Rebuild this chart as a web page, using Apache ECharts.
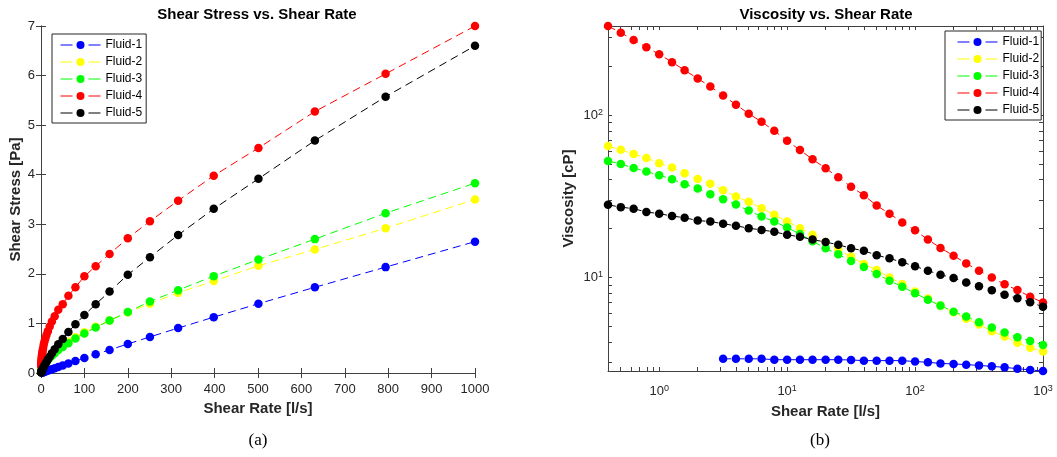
<!DOCTYPE html>
<html><head><meta charset="utf-8">
<script src="https://cdn.jsdelivr.net/npm/echarts@6/dist/echarts.min.js"></script>
<style>html,body{margin:0;padding:0;background:#fff}#c{width:1057px;height:457px}</style>
</head><body><div id="c"></div>
<script>
// ---------- data ----------
const fluidNames = ['Fluid-1', 'Fluid-2', 'Fluid-3', 'Fluid-4', 'Fluid-5'];
const fluidColors = ['#0000ff', '#ffff00', '#00ff00', '#ff0000', '#000000'];
// shear rates [1/s]
const shearRates = [0.398, 0.501, 0.631, 0.794, 1, 1.26, 1.58, 2, 2.51, 3.16, 3.98, 5.01, 6.31, 7.94, 10, 12.6, 15.8, 20, 25.1, 31.6, 39.8, 50.1, 63.1, 79.4, 100, 126, 158, 200, 251, 316, 398, 501, 631, 794, 1000];
const shearRatesFluid1 = [3.16, 3.98, 5.01, 6.31, 7.94, 10, 12.6, 15.8, 20, 25.1, 31.6, 39.8, 50.1, 63.1, 79.4, 100, 126, 158, 200, 251, 316, 398, 501, 631, 794, 1000];
// viscosities [cP]
const viscFluid1 = [3.15, 3.15, 3.15, 3.15, 3.11, 3.11, 3.11, 3.11, 3.11, 3.11, 3.10, 3.07, 3.07, 3.07, 3.07, 3.03, 3.00, 2.95, 2.93, 2.90, 2.87, 2.83, 2.79, 2.74, 2.69, 2.65];
const viscFluid2 = [64.4, 61.2, 57.5, 54.4, 50.5, 47.5, 43.8, 40.4, 37.7, 34.4, 31.5, 29.2, 26.7, 24.3, 22.1, 20.1, 18.3, 16.5, 14.9, 13.4, 12.1, 11.1, 10.0, 9.10, 8.20, 7.40, 6.70, 6.10, 5.57, 5.12, 4.66, 4.32, 3.95, 3.68, 3.50];
const viscFluid3 = [52.1, 50.0, 47.2, 44.9, 42.6, 40.3, 37.5, 35.3, 32.5, 30.3, 28.1, 25.8, 23.7, 22.1, 20.3, 18.5, 16.7, 15.1, 13.9, 12.6, 11.6, 10.5, 9.55, 8.77, 7.98, 7.29, 6.70, 6.15, 5.75, 5.29, 4.91, 4.57, 4.28, 4.06, 3.83];
const viscFluid4 = [354, 322, 290, 262, 237, 212, 189, 168, 150, 132, 116, 102, 91, 80, 69.5, 60.9, 53.4, 47.0, 41.4, 36.2, 32.1, 27.7, 24.7, 21.8, 19.5, 17.1, 15.2, 13.6, 12.2, 11.0, 10.0, 9.06, 8.36, 7.60, 7.00];
const viscFluid5 = [28.0, 27.1, 26.5, 25.3, 24.7, 23.9, 23.3, 22.4, 22.1, 21.4, 20.8, 20.1, 19.6, 19.1, 18.3, 17.8, 17.1, 16.5, 15.9, 15.1, 14.6, 13.7, 13.1, 12.4, 11.7, 11.0, 10.4, 9.91, 9.31, 8.81, 8.32, 7.82, 7.43, 7.02, 6.60];
// axis ticks
const logXLabelValues = [1, 10, 100, 1000];
const logYLabelValues = [10, 100];
const logXTickValues = [0.5, 0.6, 0.7, 0.8, 0.9, 1, 2, 3, 4, 5, 6, 7, 8, 9, 10, 20, 30, 40, 50, 60, 70, 80, 90, 100, 200, 300, 400, 500, 600, 700, 800, 900, 1000];
const logYTickValues = [3, 4, 5, 6, 7, 8, 9, 10, 20, 30, 40, 50, 60, 70, 80, 90, 100, 200, 300];

// ---------- chart ----------
const FONT = '"Liberation Sans", Arial, Helvetica, sans-serif';
const AX = '#262626';
const fluidRates = [shearRatesFluid1, shearRates, shearRates, shearRates, shearRates];
const fluidVisc = [viscFluid1, viscFluid2, viscFluid3, viscFluid4, viscFluid5];

function viscData(k) { return fluidRates[k].map((r, i) => [r, fluidVisc[k][i]]); }
// shear stress [Pa] = viscosity [cP] * 1e-3 * shear rate [1/s]
function stressData(k) { return fluidRates[k].map((r, i) => [r, fluidVisc[k][i] * r / 1000]); }

function mkSeries(k, xi, yi, data) {
  const c = fluidColors[k];
  return {
    name: fluidNames[k], type: 'line', xAxisIndex: xi, yAxisIndex: yi, data: data,
    symbol: 'circle', symbolSize: 8.5, showSymbol: true, clip: false,
    lineStyle: { color: c, width: 1, type: [8, 5] },
    itemStyle: { color: c, borderWidth: 0 },
    emphasis: { disabled: true }, animation: false
  };
}

const fmtPow = v => {
  const l = Math.log10(v), e = Math.round(l);
  return Math.abs(l - e) < 1e-6 ? '{b|10}{s|' + e + '}' : '';
};
const fmtPlain = v => String(v);
const richPow = {
  b: { fontSize: 13, color: AX, fontFamily: FONT, lineHeight: 15 },
  s: { fontSize: 9, color: AX, fontFamily: FONT, verticalAlign: 'top', lineHeight: 9 }
};
const lineStyleAx = { color: '#404040', width: 1 };
const tickIn = { show: true, inside: true, length: 5, lineStyle: lineStyleAx };
const labelBase = { color: AX, fontSize: 13, fontFamily: FONT, formatter: fmtPlain };
const nameStyle = { color: AX, fontSize: 15, fontWeight: 'bold', fontFamily: FONT };

const series = [];
for (let k = 0; k < 5; k++) series.push(mkSeries(k, 0, 0, stressData(k)));
for (let k = 0; k < 5; k++) series.push(mkSeries(k, 2, 2, viscData(k)));

const legendCommon = {
  orient: 'vertical', itemWidth: 40, itemHeight: 10, itemGap: 5,
  borderColor: AX, borderWidth: 1, backgroundColor: '#fff', borderRadius: 0,
  textStyle: { fontSize: 12, color: '#000', fontFamily: FONT },
  lineStyle: { type: [12, 16], width: 1 },
  selectedMode: false, data: fluidNames
};

const option = {
  animation: false,
  backgroundColor: '#fff',
  grid: [
    { left: 41, top: 26, width: 434, height: 347 },
    { left: 608, top: 26, width: 435, height: 345 }
  ],
  xAxis: [
    { gridIndex: 0, type: 'value', position: 'bottom', min: 0, max: 1000, interval: 100,
      axisLine: { show: true, lineStyle: lineStyleAx }, axisTick: tickIn,
      axisLabel: Object.assign({ margin: 10 }, labelBase), splitLine: { show: false },
      name: 'Shear Rate [l/s]', nameLocation: 'middle', nameGap: 28, nameTextStyle: nameStyle },
    { gridIndex: 0, type: 'value', position: 'top', min: 0, max: 1000, interval: 100,
      axisLine: { show: true, lineStyle: lineStyleAx }, axisTick: tickIn,
      axisLabel: { show: false }, splitLine: { show: false } },
    { gridIndex: 1, type: 'log', logBase: 10, position: 'bottom', min: 0.398, max: 1000,
      axisLine: { show: true, lineStyle: lineStyleAx },
      axisTick: Object.assign({ customValues: logXTickValues }, tickIn, { length: 4 }),
      axisLabel: { customValues: logXLabelValues, formatter: fmtPow, rich: richPow, margin: 13 },
      splitLine: { show: false },
      name: 'Shear Rate [l/s]', nameLocation: 'middle', nameGap: 33, nameTextStyle: nameStyle },
    { gridIndex: 1, type: 'log', logBase: 10, position: 'top', min: 0.398, max: 1000,
      axisLine: { show: true, lineStyle: lineStyleAx },
      axisTick: Object.assign({ customValues: logXTickValues }, tickIn, { length: 4 }),
      axisLabel: { show: false }, splitLine: { show: false } }
  ],
  yAxis: [
    { gridIndex: 0, type: 'value', position: 'left', min: 0, max: 7, interval: 1,
      axisLine: { show: true, lineStyle: lineStyleAx }, axisTick: tickIn,
      axisLabel: Object.assign({ margin: 6 }, labelBase), splitLine: { show: false },
      name: 'Shear Stress [Pa]', nameLocation: 'middle', nameGap: 18, nameRotate: 90, nameTextStyle: nameStyle },
    { gridIndex: 0, type: 'value', position: 'right', min: 0, max: 7, interval: 1,
      axisLine: { show: true, lineStyle: lineStyleAx }, axisTick: tickIn,
      axisLabel: { show: false }, splitLine: { show: false } },
    { gridIndex: 1, type: 'log', logBase: 10, position: 'left', min: 2.65, max: 354,
      axisLine: { show: true, lineStyle: lineStyleAx },
      axisTick: Object.assign({ customValues: logYTickValues }, tickIn, { length: 4 }),
      axisLabel: { customValues: logYLabelValues, formatter: fmtPow, rich: richPow, margin: 5 },
      splitLine: { show: false },
      name: 'Viscosity [cP]', nameLocation: 'middle', nameGap: 32, nameRotate: 90, nameTextStyle: nameStyle },
    { gridIndex: 1, type: 'log', logBase: 10, position: 'right', min: 2.65, max: 354,
      axisLine: { show: true, lineStyle: lineStyleAx },
      axisTick: Object.assign({ customValues: logYTickValues }, tickIn, { length: 4 }),
      axisLabel: { show: false }, splitLine: { show: false } }
  ],
  legend: [
    Object.assign({}, legendCommon, { left: 52, top: 34, padding: [5, 4, 4, 8] }),
    Object.assign({}, legendCommon, { left: 945, top: 31, padding: [5, 2, 4, 12] })
  ],
  graphic: [
    { type: 'text', x: 257, y: 15, style: { text: 'Shear Stress vs. Shear Rate', fill: '#000', font: 'bold 15px ' + FONT, align: 'center', verticalAlign: 'middle', textAlign: 'center', textVerticalAlign: 'middle' } },
    { type: 'text', x: 826, y: 15, style: { text: 'Viscosity vs. Shear Rate', fill: '#000', font: 'bold 15px ' + FONT, align: 'center', verticalAlign: 'middle', textAlign: 'center', textVerticalAlign: 'middle' } },
    { type: 'text', x: 258, y: 441, style: { text: '(a)', fill: '#000', font: '17px "Liberation Serif", "DejaVu Serif", serif', align: 'center', verticalAlign: 'middle', textAlign: 'center', textVerticalAlign: 'middle' } },
    { type: 'text', x: 820, y: 441, style: { text: '(b)', fill: '#000', font: '17px "Liberation Serif", "DejaVu Serif", serif', align: 'center', verticalAlign: 'middle', textAlign: 'center', textVerticalAlign: 'middle' } }
  ],
  series: series
};

const chart = echarts.init(document.getElementById('c'), null, { renderer: 'canvas' });
chart.setOption(option);
</script>
</body></html>
